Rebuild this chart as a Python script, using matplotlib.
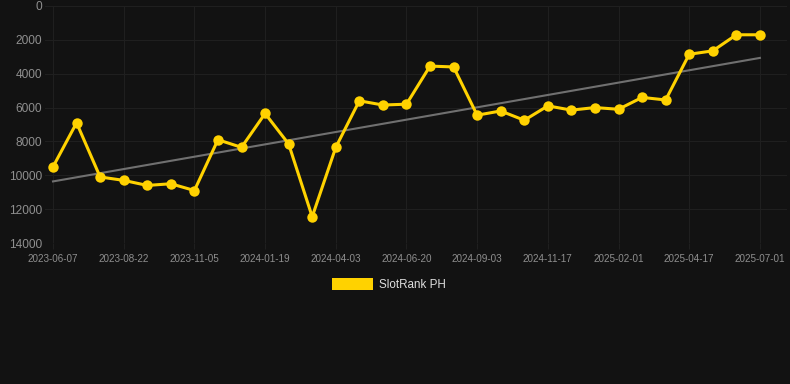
import matplotlib
matplotlib.use("Agg")
import matplotlib.pyplot as plt
import numpy as np

rank_values = [9500, 6900, 10100, 10300, 10600, 10500, 10900, 7900, 8350, 6350,
               8150, 12450, 8350, 5600, 5850, 5800, 3550, 3600, 6450, 6200,
               6750, 5900, 6150, 6000, 6100, 5400, 5550, 2850, 2650, 1700, 1700]
tick_labels = ["2023-06-07", "2023-08-22", "2023-11-05", "2024-01-19", "2024-04-03",
               "2024-06-20", "2024-09-03", "2024-11-17", "2025-02-01", "2025-04-17",
               "2025-07-01"]
y_ticks = [0, 2000, 4000, 6000, 8000, 10000, 12000, 14000]
series_name = "SlotRank PH"

BG = "#121212"
GOLD = "#FFD200"
plt.rcParams['font.family'] = ['Liberation Sans', 'DejaVu Sans']

fig = plt.figure(figsize=(7.9, 3.84), dpi=100, facecolor=BG)
ax = fig.add_axes([45/790, 1-243/384, (787-45)/790, (243-6)/384])
ax.set_facecolor(BG)

x = np.arange(len(rank_values))
coef = np.polyfit(x, rank_values, 1)
ax.plot(x, np.polyval(coef, x), color="#707070", lw=1.5, zorder=2)
ax.plot(x, rank_values, color=GOLD, lw=2.2, marker="o", markersize=7.5,
        markeredgewidth=0, zorder=3)

ax.set_ylim(14000, 0)
ax.set_xlim(-0.34, 31.15)
ax.set_yticks(y_ticks)
ax.set_yticklabels([str(v) for v in y_ticks])
ax.set_xticks(x[::3])
ax.set_xticklabels(tick_labels)

ax.grid(True, color="#1f1f1f", lw=0.8)
ax.set_axisbelow(True)
for s in ax.spines.values():
    s.set_visible(False)
ax.tick_params(axis="y", length=0, pad=2, labelsize=8.6, labelcolor="#8f8f8f")
ax.tick_params(axis="x", length=4, width=0.8, color="#1f1f1f", pad=4,
               labelsize=7.1, labelcolor="#8f8f8f")

# legend
fig.patches.append(matplotlib.patches.Rectangle((332/790, 1-290/384), 41/790, 12/384,
                   transform=fig.transFigure, facecolor=GOLD, edgecolor="none"))
fig.text(379/790, 1-284.5/384, series_name, color="#dddddd", fontsize=8.4,
         va="center", ha="left")

fig.savefig("out.png", dpi=100, facecolor=BG)
